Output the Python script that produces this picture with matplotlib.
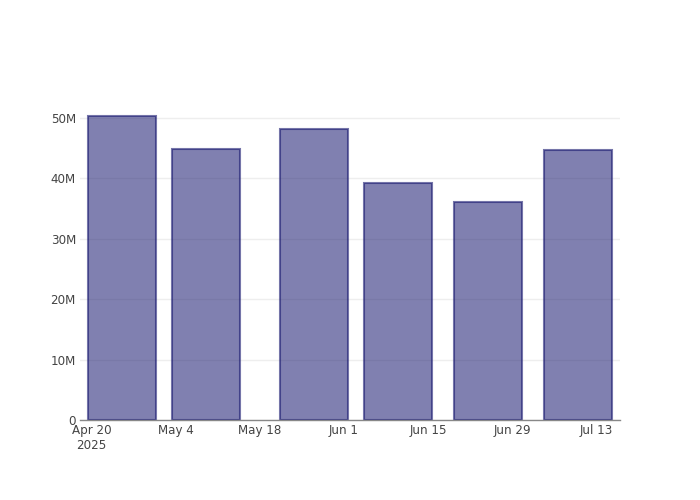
import matplotlib
matplotlib.use("Agg")
import matplotlib.pyplot as plt
import matplotlib.dates as mdates
import numpy as np
import datetime as dt

# data
dates = ["2025-04-25", "2025-05-09", "2025-05-27", "2025-06-10", "2025-06-25", "2025-07-10"]
values = [50.3e6, 44.9e6, 48.2e6, 39.2e6, 36.1e6, 44.7e6]
tick_dates = ["2025-04-20", "2025-05-04", "2025-05-18", "2025-06-01", "2025-06-15", "2025-06-29", "2025-07-13"]
tick_labels = ["Apr 20\n2025", "May 4", "May 18", "Jun 1", "Jun 15", "Jun 29", "Jul 13"]
y_ticks = [0, 10e6, 20e6, 30e6, 40e6, 50e6]
y_labels = ["0", "10M", "20M", "30M", "40M", "50M"]

plt.rcParams['font.family'] = ['DejaVu Sans']

x = mdates.date2num([dt.datetime.fromisoformat(d) for d in dates])
xt = mdates.date2num([dt.datetime.fromisoformat(d) for d in tick_dates])

fig = plt.figure(figsize=(7, 5), dpi=100)
ax = fig.add_axes([80/700, 80/500, 540/700, 320/500])

ax.bar(x, values, width=11.3, color=(25/255, 25/255, 112/255, 0.55),
       edgecolor=(25/255, 25/255, 112/255, 0.6), linewidth=1.5, zorder=3)

ax.set_xlim(xt[0] - 1.95, xt[0] + 88)
ax.set_ylim(0, 53e6)

ax.set_xticks(xt)
ax.set_xticklabels(tick_labels)
ax.set_yticks(y_ticks)
ax.set_yticklabels(y_labels)
ax.tick_params(length=0, labelsize=8.6, colors='#444444', pad=3)
for lbl in ax.get_xticklabels():
    lbl.set_verticalalignment('top')

ax.grid(axis='y', color='#eeeeee', linewidth=1, zorder=0)
for s in ['top', 'right', 'left']:
    ax.spines[s].set_visible(False)
ax.spines['bottom'].set_color('#888888')
ax.spines['bottom'].set_linewidth(1)
ax.spines['bottom'].set_zorder(4)

fig.savefig("out.png", dpi=100)
